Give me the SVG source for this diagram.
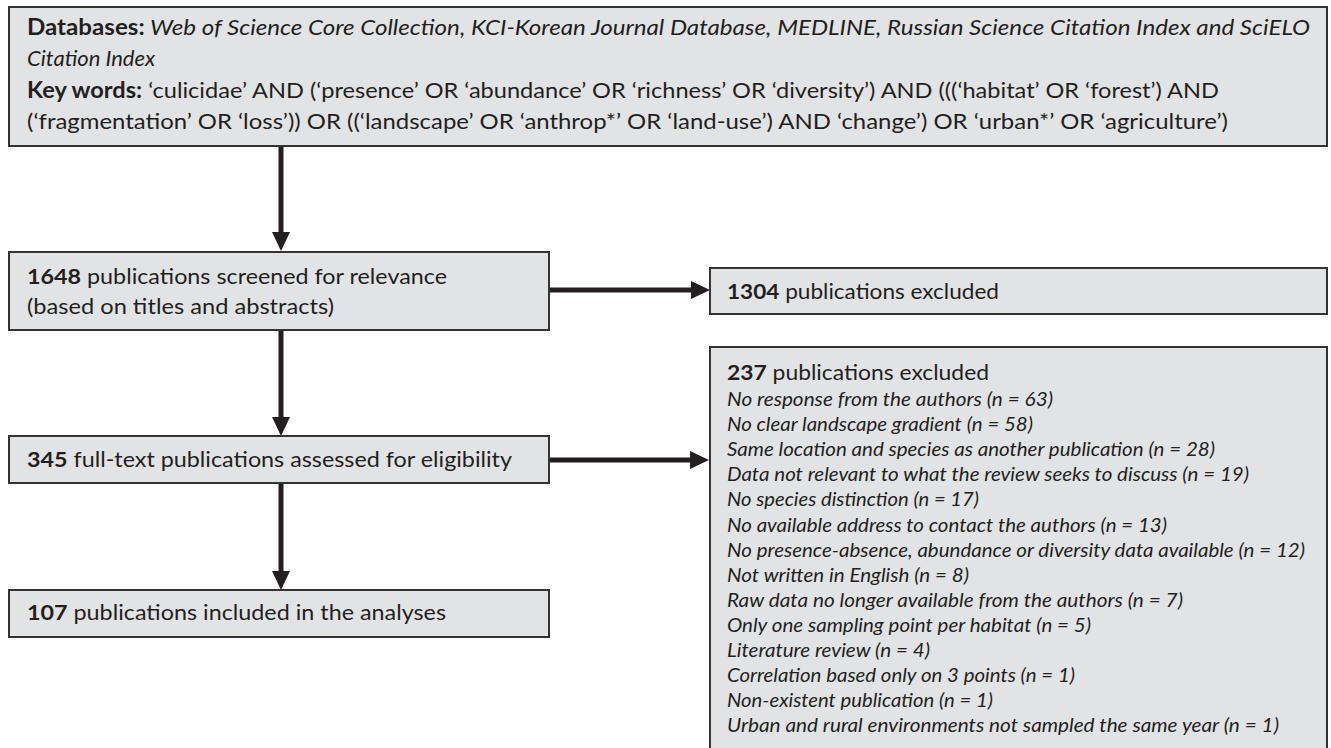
<svg xmlns="http://www.w3.org/2000/svg" width="1331" height="748" viewBox="0 0 1331 748">
<style>
.box{fill:#e2e3e5;stroke:#333333;stroke-width:2}
.t{font-family:Lato,"Open Sans","Liberation Sans",sans-serif;font-size:21px;fill:#231f20}
.h{font-family:Lato,"Open Sans","Liberation Sans",sans-serif;font-size:22px;fill:#231f20}
.s{font-family:Lato,"Open Sans","Liberation Sans",sans-serif;font-size:19.5px;font-style:italic;fill:#231f20}
.b{font-weight:bold}
.i{font-style:italic}
.ar{stroke:#231f20;stroke-width:5;fill:none;marker-end:url(#ah)}
</style>
<defs>
<marker id="ah" markerUnits="userSpaceOnUse" markerWidth="20" markerHeight="19" refX="2" refY="9" orient="auto">
<path d="M0,0 L19,9 L0,18 z" fill="#231f20"/>
</marker>
</defs>
<rect width="1331" height="748" fill="#ffffff"/>
<g id="connectors">
<line class="ar" x1="281" y1="146" x2="281" y2="234"/>
<line class="ar" x1="549" y1="290" x2="693" y2="290"/>
<line class="ar" x1="281" y1="330" x2="281" y2="419"/>
<line class="ar" x1="549" y1="460" x2="692" y2="460"/>
<line class="ar" x1="281" y1="483" x2="281" y2="573"/>
</g>
<g id="search">
<rect class="box" x="9" y="7" width="1318" height="139"/>
<text class="h" x="27" y="35" textLength="1283" lengthAdjust="spacingAndGlyphs"><tspan class="b">Databases:</tspan><tspan class="i"> Web of Science Core Collection, KCI-Korean Journal Database, MEDLINE, Russian Science Citation Index and SciELO</tspan></text>
<text class="h i" x="27" y="66">Citation Index</text>
<text class="h" x="27" y="98" textLength="1192" lengthAdjust="spacingAndGlyphs"><tspan class="b">Key words:</tspan> ‘culicidae’ AND (‘presence’ OR ‘abundance’ OR ‘richness’ OR ‘diversity’) AND (((‘habitat’ OR ‘forest’) AND</text>
<text class="h" x="27" y="129" textLength="1201" lengthAdjust="spacingAndGlyphs">(‘fragmentation’ OR ‘loss’)) OR ((‘landscape’ OR ‘anthrop*’ OR ‘land-use’) AND ‘change’) OR ‘urban*’ OR ‘agriculture’)</text>
</g>
<g id="screened">
<rect class="box" x="9" y="252" width="540" height="78"/>
<text class="t" x="27" y="284" textLength="420" lengthAdjust="spacingAndGlyphs"><tspan class="b">1648</tspan> publications screened for relevance</text>
<text class="t" x="27" y="314" textLength="307" lengthAdjust="spacingAndGlyphs">(based on titles and abstracts)</text>
</g>
<g id="excluded1304">
<rect class="box" x="710" y="268" width="617" height="46"/>
<text class="t" x="727" y="299" textLength="272" lengthAdjust="spacingAndGlyphs"><tspan class="b">1304</tspan> publications excluded</text>
</g>
<g id="fulltext">
<rect class="box" x="9" y="436" width="540" height="47"/>
<text class="t" x="27" y="467" textLength="485" lengthAdjust="spacingAndGlyphs"><tspan class="b">345</tspan> full-text publications assessed for eligibility</text>
</g>
<g id="included">
<rect class="box" x="9" y="590" width="540" height="47"/>
<text class="t" x="27" y="620" textLength="419" lengthAdjust="spacingAndGlyphs"><tspan class="b">107</tspan> publications included in the analyses</text>
</g>
<g id="excluded237">
<rect class="box" x="710" y="347" width="617" height="410"/>
<text class="t" x="727" y="380" textLength="262" lengthAdjust="spacingAndGlyphs"><tspan class="b">237</tspan> publications excluded</text>
<text class="s" x="727" y="406" textLength="326" lengthAdjust="spacingAndGlyphs">No response from the authors (n = 63)</text>
<text class="s" x="727" y="431" textLength="306" lengthAdjust="spacingAndGlyphs">No clear landscape gradient (n = 58)</text>
<text class="s" x="727" y="456" textLength="488" lengthAdjust="spacingAndGlyphs">Same location and species as another publication (n = 28)</text>
<text class="s" x="727" y="481" textLength="522" lengthAdjust="spacingAndGlyphs">Data not relevant to what the review seeks to discuss (n = 19)</text>
<text class="s" x="727" y="506" textLength="252" lengthAdjust="spacingAndGlyphs">No species distinction (n = 17)</text>
<text class="s" x="727" y="532" textLength="440" lengthAdjust="spacingAndGlyphs">No available address to contact the authors (n = 13)</text>
<text class="s" x="727" y="557" textLength="578" lengthAdjust="spacingAndGlyphs">No presence-absence, abundance or diversity data available (n = 12)</text>
<text class="s" x="727" y="582" textLength="242" lengthAdjust="spacingAndGlyphs">Not written in English (n = 8)</text>
<text class="s" x="727" y="607" textLength="456" lengthAdjust="spacingAndGlyphs">Raw data no longer available from the authors (n = 7)</text>
<text class="s" x="727" y="632" textLength="364" lengthAdjust="spacingAndGlyphs">Only one sampling point per habitat (n = 5)</text>
<text class="s" x="727" y="657" textLength="203" lengthAdjust="spacingAndGlyphs">Literature review (n = 4)</text>
<text class="s" x="727" y="682" textLength="348" lengthAdjust="spacingAndGlyphs">Correlation based only on 3 points (n = 1)</text>
<text class="s" x="727" y="707" textLength="266" lengthAdjust="spacingAndGlyphs">Non-existent publication (n = 1)</text>
<text class="s" x="727" y="732" textLength="552" lengthAdjust="spacingAndGlyphs">Urban and rural environments not sampled the same year (n = 1)</text>
</g>
</svg>
